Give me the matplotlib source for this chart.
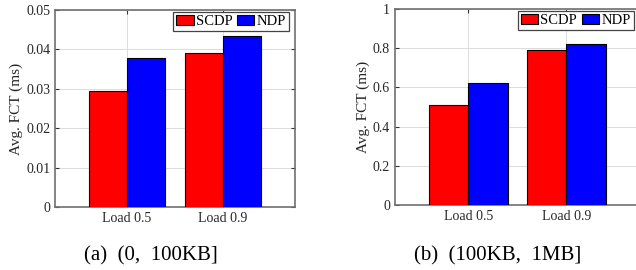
import matplotlib.pyplot as plt
import numpy as np
from matplotlib.ticker import FuncFormatter

plt.rcParams['font.family'] = ['Liberation Serif', 'DejaVu Serif']

loads = ['Load 0.5', 'Load 0.9']
series = ['SCDP', 'NDP']
colors = ['#ff0000', '#0000ff']

# (a) (0, 100KB]
fct_small = {'SCDP': [0.0294, 0.0392], 'NDP': [0.0378, 0.0433]}
# (b) (100KB, 1MB]
fct_large = {'SCDP': [0.512, 0.792], 'NDP': [0.621, 0.821]}

captions = ['(a)  (0,  100KB]', '(b)  (100KB,  1MB]']
ylims = [(0, 0.05), (0, 1)]
yticks = [np.arange(0, 0.051, 0.01), np.arange(0, 1.01, 0.2)]

fig = plt.figure(figsize=(6.36, 2.70), dpi=100)
positions = [[0.0865, 0.2333, 0.3774, 0.7296], [0.621, 0.2407, 0.385, 0.726]]
cap_x = [151 / 636, 498 / 636]

x = np.arange(1, len(loads) + 1)
width = 0.4

for i, data in enumerate([fct_small, fct_large]):
    ax = fig.add_axes(positions[i])
    for k, name in enumerate(series):
        offset = (k - 0.5) * width
        ax.bar(x + offset, data[name], width, color=colors[k], edgecolor='black',
               linewidth=0.8, label=name, zorder=3)

    ax.set_xlim(0.25, 2.75)
    ax.set_ylim(*ylims[i])
    ax.set_xticks(x, loads)
    ax.set_yticks(yticks[i])
    ax.yaxis.set_major_formatter(FuncFormatter(lambda v, p: ('%.2f' % v).rstrip('0').rstrip('.') if v else '0'))
    ax.grid(True, color='#dcdcdc', linewidth=0.7, zorder=0)
    ax.tick_params(axis='both', which='major', labelsize=10, direction='in',
                   top=True, right=True, length=3, colors='#333333', labelcolor='#262626')
    for sp in ax.spines.values():
        sp.set_color('#707070')
        sp.set_linewidth(1.2)
    ax.set_ylabel('Avg. FCT (ms)', fontsize=11, color='#262626', labelpad=2)

    leg = ax.legend(loc='upper right', bbox_to_anchor=(1 - 4 / 240, 1), ncols=2,
                    fontsize=10.5, frameon=True, fancybox=False,
                    edgecolor='#444444', framealpha=1, borderpad=0.2, handlelength=1.2,
                    handleheight=0.7, handletextpad=0.15, columnspacing=0.3,
                    borderaxespad=0.15)
    leg.get_frame().set_linewidth(0.9)

    fig.text(cap_x[i], 0.052, captions[i], ha='center', va='center', fontsize=15)

fig.savefig('out.png', dpi=100)
